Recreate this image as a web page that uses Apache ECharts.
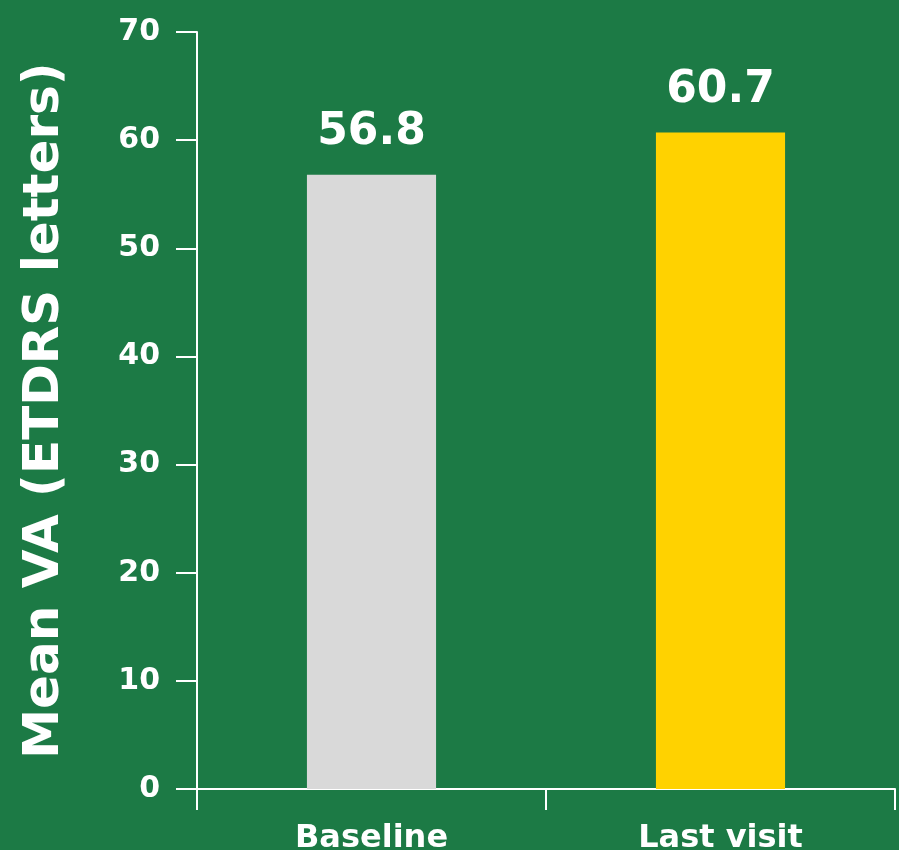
<!DOCTYPE html>
<html>
<head>
<meta charset="utf-8">
<script src="https://cdn.jsdelivr.net/npm/echarts@6/dist/echarts.min.js"></script>
<style>
  html, body { margin: 0; padding: 0; background: #1c7a45; }
  #chart { width: 899px; height: 850px; }
</style>
</head>
<body>
<div id="chart"></div>
<script>
var categories = ['Baseline', 'Last visit'];
var values = [56.8, 60.7];
var barColors = ['#d9d9d9', '#ffd200'];

var font = 'DejaVu Sans';
var chart = echarts.init(document.getElementById('chart'));
chart.setOption({
    backgroundColor: '#1c7a45',
    animation: false,
    grid: { left: 197, right: 4, top: 32, bottom: 61, outerBoundsMode: 'none' },
    xAxis: {
        type: 'category',
        data: categories,
        axisLine: { lineStyle: { color: '#fff', width: 2 } },
        axisTick: { show: true, length: 21, lineStyle: { color: '#fff', width: 2 } },
        axisLabel: { color: '#fff', fontFamily: font, fontWeight: 'bold', fontSize: 32, margin: 34 }
    },
    yAxis: {
        type: 'value',
        min: 0, max: 70, interval: 10,
        name: 'Mean VA (ETDRS letters)',
        nameLocation: 'middle',
        nameGap: 127,
        nameTextStyle: { color: '#fff', fontFamily: font, fontWeight: 'bold', fontSize: 50 },
        splitLine: { show: false },
        axisLine: { show: true, lineStyle: { color: '#fff', width: 2 } },
        axisTick: { show: true, length: 21, lineStyle: { color: '#fff', width: 2 } },
        axisLabel: { color: '#fff', fontFamily: font, fontWeight: 'bold', fontSize: 30, margin: 37 }
    },
    series: [{
        type: 'bar',
        barWidth: '37%',
        data: values.map(function (v, i) {
            return { value: v, itemStyle: { color: barColors[i] } };
        }),
        label: {
            show: true, position: 'top', distance: 20,
            color: '#fff', fontFamily: font, fontWeight: 'bold', fontSize: 44,
            formatter: function (p) { return p.value.toFixed(1); }
        }
    }]
});
</script>
</body>
</html>
